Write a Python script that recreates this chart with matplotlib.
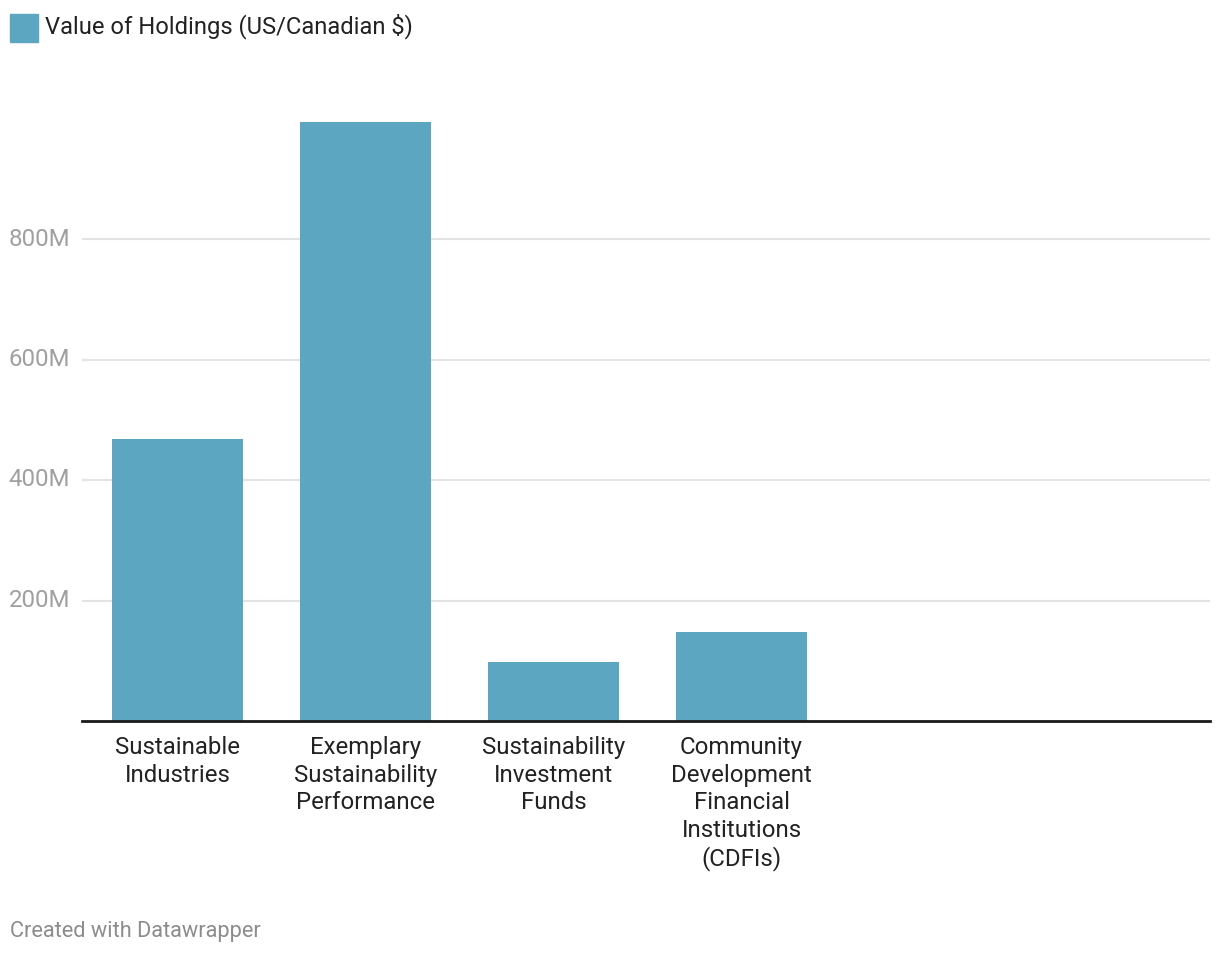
import matplotlib.pyplot as plt
from matplotlib.patches import Rectangle

# data (values in millions)
categories = ["Sustainable\nIndustries",
              "Exemplary\nSustainability\nPerformance",
              "Sustainability\nInvestment\nFunds",
              "Community\nDevelopment\nFinancial\nInstitutions\n(CDFIs)"]
values = [468, 994, 98, 148]
yticks = [200, 400, 600, 800]
ytick_labels = ["200M", "400M", "600M", "800M"]

bar_color = "#5ca6c1"
plt.rcParams['font.family'] = ['Roboto', 'DejaVu Sans']

W, H = 1220, 956
fig = plt.figure(figsize=(W / 100, H / 100), dpi=100)
# axes from x=82..1210 px, y=100..721 px
ax = fig.add_axes([82 / W, (H - 721) / H, (1210 - 82) / W, (721 - 100) / H])

x = list(range(len(values)))
ax.bar(x, values, width=0.70, color=bar_color, zorder=2)

ax.set_xlim(-0.508, 5.492)
ax.set_ylim(0, 621 / 120.5 * 200)

ax.set_yticks(yticks)
ax.set_yticklabels(ytick_labels)
ax.yaxis.grid(True, color="#e3e3e3", linewidth=1.5, zorder=0)
ax.tick_params(axis='y', length=0, pad=8.5, labelsize=17.3, labelcolor="#a0a0a0")
for lab in ax.get_yticklabels():
    lab.set_verticalalignment('center')

ax.set_xticks(x)
ax.set_xticklabels(categories, linespacing=1.245)
ax.tick_params(axis='x', length=0, pad=11, labelsize=17.3, labelcolor="#222222")

for s in ['top', 'right', 'left']:
    ax.spines[s].set_visible(False)
ax.spines['bottom'].set_color("#1a1a1a")
ax.spines['bottom'].set_linewidth(2)
ax.spines['bottom'].set_zorder(3)

# legend swatch + label
fig.patches.append(Rectangle((10 / W, (H - 42) / H), 28 / W, 28 / H,
                             transform=fig.transFigure, color=bar_color))
fig.text(45 / W, (H - 26) / H, "Value of Holdings (US/Canadian $)",
         fontsize=17.1, color="#222222", va='center', ha='left')

fig.text(10 / W, (H - 932) / H, "Created with Datawrapper",
         fontsize=15.7, color="#8c8c8c", va='center', ha='left')

fig.savefig("out.png", dpi=100, facecolor="white")
